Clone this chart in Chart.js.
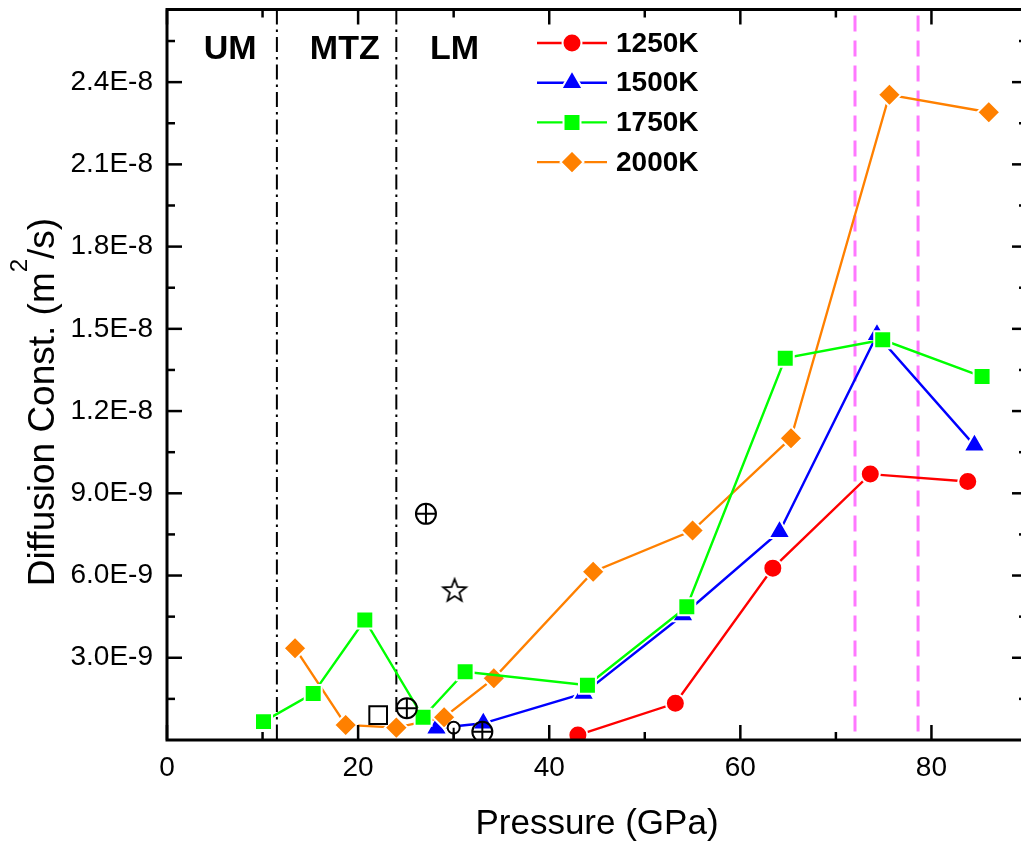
<!DOCTYPE html>
<html>
<head>
<meta charset="utf-8">
<title>Diffusion constant vs pressure</title>
<script src="https://cdn.jsdelivr.net/npm/chart.js@4.4.1/dist/chart.umd.min.js"></script>
<style>
  html, body { margin: 0; padding: 0; background: #fff; overflow: hidden; }
  #wrap { width: 1040px; height: 842px; }
</style>
</head>
<body>
<div id="wrap"><canvas id="diffChart" width="1040" height="842"></canvas></div>
<script>
'use strict';

// ── Data: pressure (GPa) / diffusion constant (1E-9 m²/s) ──────────
const P_1250 = [43.0, 53.2, 63.4, 73.6, 83.8];
const D_1250 = [0.18, 1.34, 6.27, 9.70, 9.43];

const P_1500 = [28.2, 33.1, 43.6, 54.0, 64.1, 74.3, 84.5];
const D_1500 = [0.43, 0.61, 1.70, 4.56, 7.60, 14.78, 10.75];

const P_1750 = [10.1, 15.3, 20.7, 26.8, 31.2, 44.0, 54.4, 64.7, 74.9, 85.3];
const D_1750 = [0.67, 1.70, 4.38, 0.83, 2.49, 2.00, 4.86, 13.93, 14.60, 13.26];

const P_2000 = [13.4, 18.7, 24.0, 29.0, 34.2, 44.6, 55.0, 65.3, 75.6, 86.0];
const D_2000 = [3.35, 0.55, 0.45, 0.83, 2.25, 6.14, 7.64, 11.01, 23.54, 22.90];

// other published values (open black symbols)
const P_CIRCLEPLUS = [27.1, 25.1, 33.0];
const D_CIRCLEPLUS = [8.25, 1.16, 0.30];
const P_STAR = [30.1];
const D_STAR = [5.47];
const P_OPENSQ = [22.1];
const D_OPENSQ = [0.91];
const P_OPENCIRC = [30.0];
const D_OPENCIRC = [0.45];
const D_OPENCIRC_LOW = [0.0];

const SERIES_NAMES = ['1250K', '1500K', '1750K', '2000K'];

// region boundaries and labels
const BOUNDARY_P = [11.5, 24.0];
const TRANSITION_P = [72.0, 78.6];
const REGION_NAMES = ['UM', 'MTZ', 'LM'];
const REGION_P = [6.6, 18.6, 30.1];
const REGION_D = 25.2;

// axes
const X_MIN = 0, X_MAX = 90;
const Y_MIN = 0, Y_MAX = 26.65;
const X_TICKS = [0, 20, 40, 60, 80];
const X_MINOR = [10, 30, 50, 70, 90];
const Y_TICKS = [3, 6, 9, 12, 15, 18, 21, 24];
const Y_TICK_LABELS = ['3.0E-9', '6.0E-9', '9.0E-9', '1.2E-8', '1.5E-8', '1.8E-8', '2.1E-8', '2.4E-8'];
const Y_MINOR = [1.5, 4.5, 7.5, 10.5, 13.5, 16.5, 19.5, 22.5, 25.5];
const Y_TITLE = ['Diffusion Const. (m', '2', '/s)'];

const FONT = "'Liberation Sans', Arial, sans-serif";

// ── Helpers ───────────────────────────────────────────────
const toPts = (xs, ys) => xs.map((p, i) => ({ x: p, y: ys[i] }));

function makeStar(r) {
  const s = Math.ceil(r * 2 + 6);
  const c = document.createElement('canvas');
  c.width = c.height = s;
  const g = c.getContext('2d');
  g.beginPath();
  for (let i = 0; i < 10; i++) {
    const rad = i % 2 ? r * 0.42 : r;
    const a = -Math.PI / 2 + i * Math.PI / 5;
    const px = s / 2 + rad * Math.cos(a);
    const py = s / 2 + rad * Math.sin(a) + 1;
    if (i === 0) g.moveTo(px, py); else g.lineTo(px, py);
  }
  g.closePath();
  g.lineWidth = 1.8;
  g.strokeStyle = '#000';
  g.stroke();
  return c;
}

// white rim round each marker leaves a small gap where the line meets it
function series(label, xs, ys, color, style, radius, order) {
  return {
    label,
    data: toPts(xs, ys),
    borderColor: color,
    backgroundColor: color,
    borderWidth: 2.4,
    pointStyle: style,
    pointRadius: radius,
    pointBorderWidth: 2,
    pointBorderColor: '#fff',
    pointBackgroundColor: color,
    tension: 0,
    order
  };
}

function openMarks(xs, ys, style, radius) {
  return {
    data: toPts(xs, ys),
    showLine: false,
    pointStyle: style,
    pointRadius: radius,
    pointBorderWidth: 2,
    pointBorderColor: '#000',
    pointBackgroundColor: 'rgba(255,255,255,0)',
    order: 0
  };
}

// ── Plugins ───────────────────────────────────────────────
const refLines = {
  id: 'refLines',
  beforeDatasetsDraw(chart) {
    const { ctx, chartArea: a, scales: { x } } = chart;
    ctx.save();
    ctx.lineWidth = 2;
    ctx.strokeStyle = '#000';
    ctx.setLineDash([15, 5, 2.5, 5]);
    BOUNDARY_P.forEach(p => {
      const px = x.getPixelForValue(p);
      ctx.beginPath(); ctx.moveTo(px, a.top); ctx.lineTo(px, a.bottom); ctx.stroke();
    });
    ctx.lineWidth = 3;
    ctx.strokeStyle = 'rgb(255,120,255)';
    ctx.setLineDash([16, 9]);
    TRANSITION_P.forEach(p => {
      const px = x.getPixelForValue(p);
      ctx.beginPath(); ctx.moveTo(px, a.top + 6); ctx.lineTo(px, a.bottom); ctx.stroke();
    });
    ctx.restore();
  }
};

const frame = {
  id: 'frame',
  afterDatasetsDraw(chart) {
    const { ctx, chartArea: a, scales: { x, y } } = chart;
    ctx.save();
    ctx.strokeStyle = '#000';
    const seg = (x1, y1, x2, y2) => { ctx.beginPath(); ctx.moveTo(x1, y1); ctx.lineTo(x2, y2); ctx.stroke(); };

    ctx.lineWidth = 2.5;
    X_TICKS.forEach(v => { const px = x.getPixelForValue(v); seg(px, a.bottom, px, a.bottom - 15); seg(px, a.top, px, a.top + 15); });
    X_MINOR.forEach(v => { const px = x.getPixelForValue(v); seg(px, a.bottom, px, a.bottom - 8); seg(px, a.top, px, a.top + 8); });
    Y_TICKS.forEach(v => { const py = y.getPixelForValue(v); seg(a.left, py, a.left + 15, py); seg(a.right, py, a.right - 15, py); });
    Y_MINOR.forEach(v => { const py = y.getPixelForValue(v); seg(a.left, py, a.left + 8, py); seg(a.right, py, a.right - 8, py); });

    ctx.lineWidth = 3;
    ctx.strokeRect(a.left, a.top, a.right - a.left, a.bottom - a.top);

    // region names
    ctx.fillStyle = '#000';
    ctx.font = `bold 34px ${FONT}`;
    ctx.textAlign = 'center';
    ctx.textBaseline = 'middle';
    REGION_NAMES.forEach((t, i) => ctx.fillText(t, x.getPixelForValue(REGION_P[i]), y.getPixelForValue(REGION_D)));

    // legend: line + marker + name for the four temperature series
    const lx = 537, ly = 43, dy = 39.7, len = 70;
    chart.data.datasets.slice(0, SERIES_NAMES.length).forEach((ds, i) => {
      const yy = ly + i * dy;
      ctx.strokeStyle = ds.borderColor;
      ctx.lineWidth = ds.borderWidth;
      seg(lx, yy, lx + len, yy);
      ctx.fillStyle = ds.pointBackgroundColor;
      ctx.strokeStyle = '#fff';
      ctx.lineWidth = 2;
      Chart.helpers.drawPoint(ctx, { pointStyle: ds.pointStyle, radius: ds.pointRadius, rotation: 0, borderWidth: 2 }, lx + len / 2, yy);
      ctx.fillStyle = '#000';
      ctx.font = `bold 28px ${FONT}`;
      ctx.textAlign = 'left';
      ctx.fillText(SERIES_NAMES[i], lx + len + 9, yy + 1);
    });

    // y title with raised "2"
    ctx.save();
    ctx.translate(54, 402);
    ctx.rotate(-Math.PI / 2);
    ctx.textAlign = 'left';
    ctx.textBaseline = 'alphabetic';
    const big = `37px ${FONT}`, small = `24px ${FONT}`;
    ctx.font = big;  const w1 = ctx.measureText(Y_TITLE[0]).width;
    ctx.font = small; const w2 = ctx.measureText(Y_TITLE[1]).width;
    ctx.font = big;  const w3 = ctx.measureText(Y_TITLE[2]).width;
    let tx = -(w1 + w2 + w3) / 2;
    ctx.font = big;   ctx.fillText(Y_TITLE[0], tx, 0); tx += w1;
    ctx.font = small; ctx.fillText(Y_TITLE[1], tx, -27); tx += w2;
    ctx.font = big;   ctx.fillText(Y_TITLE[2], tx, 0);
    ctx.restore();

    ctx.restore();
  }
};

// ── Build chart ───────────────────────────────────────────
const datasets = [
  series('1250K', P_1250, D_1250, '#ff0000', 'circle', 9.5, 4),
  series('1500K', P_1500, D_1500, '#0000ff', 'triangle', 12.5, 3),
  series('1750K', P_1750, D_1750, '#00ff00', 'rect', 12, 1),
  series('2000K', P_2000, D_2000, '#ff8000', 'rectRot', 11.5, 2),
  openMarks(P_CIRCLEPLUS, D_CIRCLEPLUS, 'circle', 10),
  openMarks(P_CIRCLEPLUS, D_CIRCLEPLUS, 'cross', 10),
  openMarks(P_STAR, D_STAR, makeStar(12), 12),
  openMarks(P_OPENSQ, D_OPENSQ, 'rect', 12.5),
  {
    data: toPts([P_OPENCIRC[0], P_OPENCIRC[0]], [D_OPENCIRC_LOW[0], D_OPENCIRC[0]]),
    borderColor: '#000', borderWidth: 2, pointRadius: 0, order: 0
  },
  openMarks(P_OPENCIRC, D_OPENCIRC, 'circle', 6)
];
datasets[9].pointBackgroundColor = '#fff';

const zeroPad = s => { s.paddingTop = 0; s.paddingBottom = 0; s.paddingLeft = 0; s.paddingRight = 0; };

new Chart(document.getElementById('diffChart'), {
  type: 'line',
  data: { datasets },
  options: {
    responsive: false,
    animation: false,
    events: [],
    layout: { autoPadding: false, padding: { left: 0, right: 13, top: 9.5, bottom: 0 } },
    plugins: { legend: { display: false }, tooltip: { enabled: false }, title: { display: false } },
    scales: {
      x: {
        type: 'linear',
        min: X_MIN, max: X_MAX,
        grid: { display: false, drawTicks: false },
        border: { display: false },
        afterBuildTicks: s => { s.ticks = X_TICKS.map(v => ({ value: v })); },
        afterFit: s => { s.height = 102; zeroPad(s); },
        ticks: { padding: 11, color: '#000', font: { family: FONT, size: 28 }, maxRotation: 0, autoSkip: false },
        title: { display: true, text: 'Pressure (GPa)', color: '#000', font: { family: FONT, size: 35, lineHeight: 1 }, padding: { top: 3, bottom: 0 } }
      },
      y: {
        type: 'linear',
        min: Y_MIN, max: Y_MAX,
        grid: { display: false, drawTicks: false },
        border: { display: false },
        afterBuildTicks: s => { s.ticks = Y_TICKS.map(v => ({ value: v })); },
        afterFit: s => { s.width = 167; zeroPad(s); },
        ticks: { padding: 14, color: '#000', font: { family: FONT, size: 28 }, autoSkip: false, callback: (v, i) => Y_TICK_LABELS[i] }
      }
    }
  },
  plugins: [refLines, frame]
});
</script>
</body>
</html>
